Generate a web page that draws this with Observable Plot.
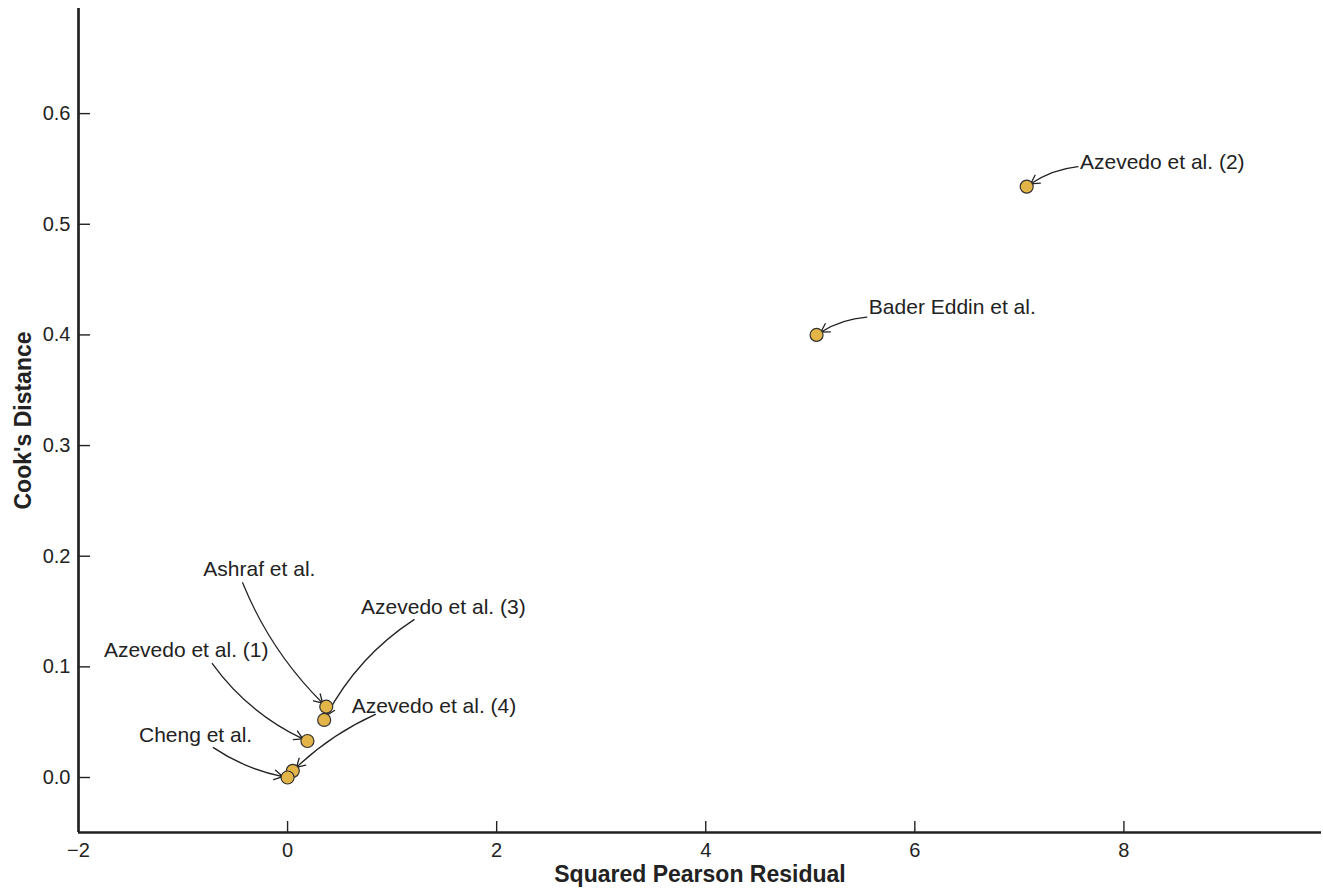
<!DOCTYPE html>
<html><head><meta charset="utf-8">
<script src="https://cdn.jsdelivr.net/npm/d3@7"></script>
<script src="https://cdn.jsdelivr.net/npm/@observablehq/plot@0.6"></script>
<style>body{margin:0;background:#fff}</style>
</head><body><div id="chart"></div>
<script>
const studies = ["Azevedo et al. (2)", "Bader Eddin et al.", "Ashraf et al.", "Azevedo et al. (3)", "Azevedo et al. (1)", "Azevedo et al. (4)", "Cheng et al."];
const residual = [7.07, 5.06, 0.37, 0.35, 0.19, 0.05, 0.00];
const cooks = [0.534, 0.400, 0.064, 0.052, 0.033, 0.006, 0.000];
const xTicks = [-2, 0, 2, 4, 6, 8];
const yTicks = [0, 0.1, 0.2, 0.3, 0.4, 0.5, 0.6];
// annotation label anchors and arrow tails (data units)
const labelX = [7.58, 5.56, -0.27, 1.49, -0.97, 1.40, -0.88];
const labelY = [0.556, 0.4246, 0.188, 0.1536, 0.1147, 0.064, 0.038];
const labelAnchor = ["start", "start", "middle", "middle", "middle", "middle", "middle"];
const tailX = [7.56, 5.54, -0.43, 1.21, -0.72, 0.84, -0.71];
const tailY = [0.552, 0.416, 0.176, 0.1427, 0.103, 0.057, 0.027];
const bends = [-15, -15, -12, -15, -15, -10, -12];

const data = studies.map((s, i) => ({
  study: s, x: residual[i], y: cooks[i],
  lx: labelX[i], ly: labelY[i], anchor: labelAnchor[i],
  tx: tailX[i], ty: tailY[i], bend: bends[i]
}));

const W = 1323, H = 891, mt = 8, mr = 2, mb = 59, ml = 78;
const xDomain = [-2, 9.89], yDomain = [-0.0497, 0.695];
const frameW = W - ml - mr, frameH = H - mt - mb;
const font = "'Liberation Sans', Arial, Helvetica, sans-serif";

const marks = [
  Plot.ruleX(xTicks.filter(d => d !== -2), {x: d => d, insetTop: frameH - 11, stroke: "#222", strokeWidth: 1.4}),
  Plot.ruleY(yTicks, {y: d => d, insetRight: frameW - 12, stroke: "#222", strokeWidth: 1.4}),
  Plot.ruleX([xDomain[0]], {stroke: "#222", strokeWidth: 2.7}),
  Plot.ruleY([yDomain[0]], {stroke: "#222", strokeWidth: 2.7}),
  Plot.axisX({ticks: xTicks, tickSize: 0, tickPadding: 10, label: null, fontSize: 20}),
  Plot.axisY({ticks: yTicks, tickSize: 0, tickPadding: 8, tickFormat: d3.format(".1f"), label: null, fontSize: 20}),
  ...data.map(d => Plot.arrow([d], {x1: "tx", y1: "ty", x2: "x", y2: "y", bend: d.bend, stroke: "#222", strokeWidth: 1.3, headLength: 11, insetEnd: 5})),
  Plot.dot(data, {x: "x", y: "y", r: 6.5, fill: "#E3B448", stroke: "#333", strokeWidth: 1.2}),
  ...["start", "middle"].map(a => Plot.text(data.filter(d => d.anchor === a), {x: "lx", y: "ly", text: "study", textAnchor: a, fill: "#222", fontSize: 21})),
  Plot.text(["Squared Pearson Residual"], {frameAnchor: "bottom", dy: 49, textAnchor: "middle", fontWeight: "bold", fontSize: 23, fill: "#222"}),
  Plot.text(["Cook's Distance"], {frameAnchor: "left", dx: -55, rotate: -90, textAnchor: "middle", fontWeight: "bold", fontSize: 23, fill: "#222"})
];

const chart = Plot.plot({
  width: W, height: H,
  marginTop: mt, marginRight: mr, marginBottom: mb, marginLeft: ml,
  x: {domain: xDomain},
  y: {domain: yDomain},
  style: {fontSize: "20px", fontFamily: font, color: "#222", background: "#fff"},
  marks
});
document.getElementById("chart").appendChild(chart);
</script>
</body></html>
